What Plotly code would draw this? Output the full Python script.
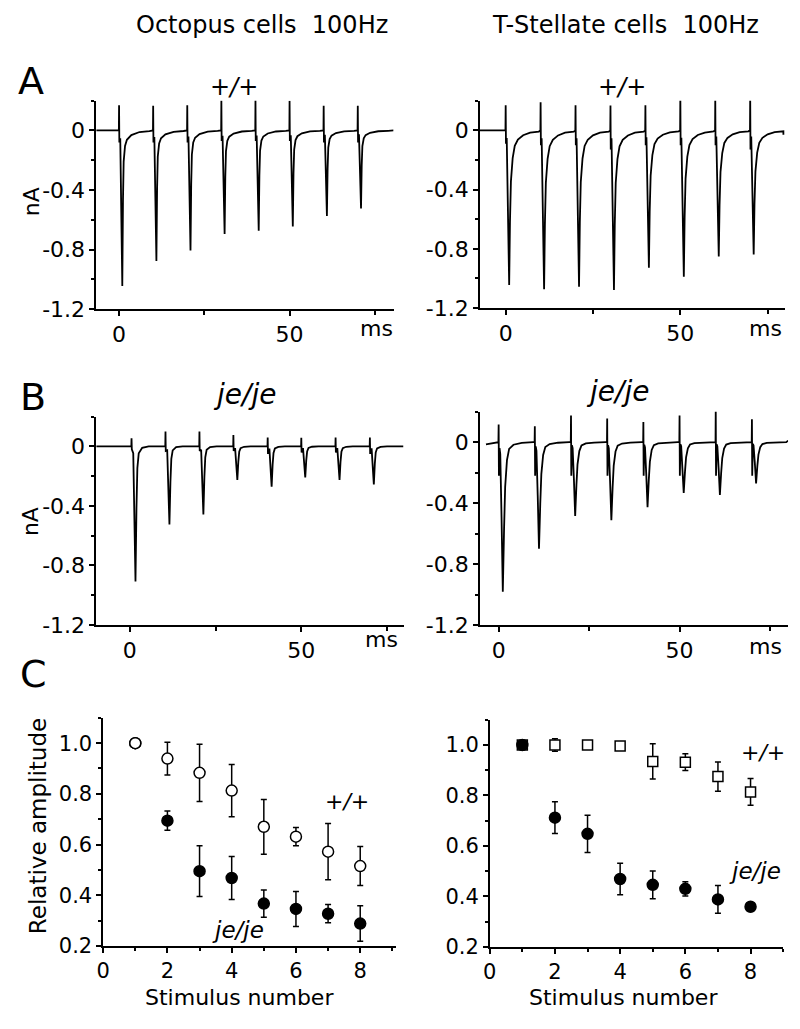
import plotly.graph_objects as go

W, H = 800, 1029

# ---------------- DATA ----------------
# Panel A/B: stimulus times (ms), EPSC peak amplitudes (nA), artifact tips (nA)
oct_wt_times = [0, 10, 20, 30, 40, 50, 60, 70]
oct_wt_peaks = [-1.045, -0.877, -0.807, -0.696, -0.674, -0.645, -0.575, -0.524]
oct_wt_art_up = [0.17, 0.166, 0.17, 0.203, 0.205, 0.2, 0.166, 0.166]
oct_wt_art_dn = [-0.08, -0.08, -0.08, -0.07, -0.07, -0.07, -0.08, -0.08]

tst_wt_times = [0, 10, 20, 30, 40, 50, 60, 70]
tst_wt_peaks = [-1.044, -1.073, -1.056, -1.078, -0.927, -0.989, -0.851, -0.838]
tst_wt_art_up = [0.17, 0.19, 0.17, 0.167, 0.17, 0.244, 0.215, 0.233]
tst_wt_art_dn = [-0.09, -0.10, -0.10, -0.13, -0.10, -0.10, -0.10, -0.13]

oct_ko_times = [0.5, 10.4, 20.3, 30.2, 40.2, 50.0, 60.0, 70.0]
oct_ko_peaks = [-0.908, -0.525, -0.458, -0.226, -0.27, -0.208, -0.226, -0.255]
oct_ko_art_up = [0.055, 0.10, 0.10, 0.077, 0.06, 0.058, 0.06, 0.06]
oct_ko_art_dn = [-0.02, -0.03, -0.03, -0.03, -0.05, -0.04, -0.04, -0.05]

tst_ko_times = [0, 10, 20, 30, 40, 50, 60, 70]
tst_ko_peaks = [-0.981, -0.699, -0.484, -0.512, -0.426, -0.333, -0.346, -0.27]
tst_ko_art_up = [0.116, 0.105, 0.176, 0.155, 0.133, 0.176, 0.22, 0.15]
tst_ko_art_dn = [-0.22, -0.22, -0.22, -0.22, -0.22, -0.22, -0.22, -0.22]

# EPSC waveform shapes: offset after stimulus (ms), fraction of peak
oct_wt_shape_t = [0.35, 0.6, 0.95, 1.15, 1.35, 1.75, 2.3, 3.6, 6.0, 8.9]
oct_wt_shape_f = [0.05, 0.45, 1.0, 0.45, 0.2, 0.1, 0.06, 0.03, 0.01, 0.004]
tst_wt_shape_t = [0.3, 0.65, 1.0, 1.23, 1.5, 2.0, 2.6, 3.5, 5.0, 7.0, 9.5]
tst_wt_shape_f = [0.05, 0.5, 1.0, 0.59, 0.33, 0.18, 0.10, 0.06, 0.032, 0.015, 0.008]
oct_ko_shape_t = [0.5, 0.85, 1.15, 1.44, 1.7, 2.1, 3.1, 5.0]
oct_ko_shape_f = [0.05, 0.5, 1.0, 0.45, 0.16, 0.05, 0.01, 0.0]
tst_ko_shape_t = [0.25, 0.45, 0.8, 1.15, 1.5, 1.8, 2.3, 2.9, 4.1, 6.4, 9.5]
tst_ko_shape_f = [0.04, 0.08, 0.5, 1.0, 0.58, 0.3, 0.12, 0.045, 0.017, 0.005, 0.0]

# Panel C: relative amplitude vs stimulus number
stim = [1, 2, 3, 4, 5, 6, 7, 8]
oct_wt_rel = [1.0, 0.939, 0.883, 0.813, 0.670, 0.631, 0.572, 0.515]
oct_wt_err = [0.0, 0.065, 0.113, 0.103, 0.108, 0.036, 0.111, 0.077]
oct_ko_rel = [1.0, 0.694, 0.495, 0.468, 0.367, 0.346, 0.327, 0.288]
oct_ko_err = [0.0, 0.038, 0.100, 0.085, 0.054, 0.069, 0.036, 0.070]
tst_wt_rel = [1.0, 1.0, 1.0, 0.996, 0.935, 0.932, 0.875, 0.814]
tst_wt_err = [0.0, 0.025, 0.0, 0.01, 0.07, 0.033, 0.058, 0.053]
tst_ko_rel = [1.0, 0.712, 0.648, 0.469, 0.446, 0.430, 0.388, 0.359]
tst_ko_err = [0.0, 0.063, 0.074, 0.062, 0.055, 0.028, 0.055, 0.0]

y_tickvals = [-1.2, -0.8, -0.4, 0]
y_ticktext = ["-1.2", "-0.8", "-0.4", "0"]
x_tickvals = [0, 50]
x_ticktext = ["0", "50"]

# ---------------- helpers ----------------
FONT = "DejaVu Sans, Arial, Helvetica, sans-serif"


def build_trace(times, peaks, up, dn, sh_t, sh_f, t0, v0, t1, v1, base=0.0):
    xs, ys = [t0], [v0]
    for t, p, u, d in zip(times, peaks, up, dn):
        xs += [t - 0.06, t, t + 0.08]
        ys += [base, u, d]
        for o, f in zip(sh_t, sh_f):
            xs.append(t + o)
            ys.append(base + f * p)
    xs.append(t1)
    ys.append(v1)
    return xs, ys


def dx(a, b):
    return [a / W, b / W]


def dy(top, bottom):
    return [1 - bottom / H, 1 - top / H]


fig = go.Figure()

axis_common = dict(showline=True, linecolor="black", linewidth=1.5, ticks="outside",
                   tickcolor="black", tickwidth=1.5, ticklen=5, showgrid=False,
                   zeroline=False, tickfont=dict(family=FONT, size=22, color="black"))

panels = [
    ("1", (90, 390), [-6.7, 80.5], (102, 313)),
    ("2", (477, 785), [-7.4, 80.0], (102, 312)),
    ("3", (90, 400), [-9.8, 79.8], (422, 633)),
    ("4", (477, 788), [-5.2, 80.0], (417, 633)),
]
layout_axes = {}
for n, xd, xr, yd in panels:
    xa = dict(axis_common, domain=dx(*xd), range=xr, anchor="y" + n,
              tickmode="array", tickvals=x_tickvals, ticktext=x_ticktext,
              minor=dict(dtick=25, tick0=0, ticks="outside", ticklen=4,
                         tickwidth=1.5, tickcolor="black"))
    ya = dict(axis_common, domain=dy(*yd), range=[-1.2, 0.2], anchor="x" + n,
              tickmode="array", tickvals=y_tickvals, ticktext=y_ticktext,
              minor=dict(dtick=0.2, tick0=0, ticks="outside", ticklen=3,
                         tickwidth=1.5, tickcolor="black"))
    layout_axes["xaxis" + ("" if n == "1" else n)] = xa
    layout_axes["yaxis" + ("" if n == "1" else n)] = ya

c_tickfont = dict(family=FONT, size=21, color="black")
for n, xd, xr, yd in [("5", (97, 392), [0, 9.1], (727, 958)),
                      ("6", (487, 783), [0, 9.0], (729, 959))]:
    layout_axes["xaxis" + n] = dict(axis_common, domain=dx(*xd), range=xr, anchor="y" + n,
                                    dtick=2, tick0=0, tickfont=c_tickfont,
                                    minor=dict(dtick=1, tick0=0, ticks="outside", ticklen=3,
                                               tickwidth=1.5, tickcolor="black"))
    layout_axes["yaxis" + n] = dict(axis_common, domain=dy(*yd), range=[0.2, 1.1], anchor="x" + n,
                                    dtick=0.2, tick0=0.2, tickformat=".1f", tickfont=c_tickfont,
                                    minor=dict(dtick=0.1, tick0=0.2, ticks="outside", ticklen=3,
                                               tickwidth=1.5, tickcolor="black"))

# ---------------- traces ----------------
line = dict(color="black", width=1.8)
x, y = build_trace(oct_wt_times, oct_wt_peaks, oct_wt_art_up, oct_wt_art_dn,
                   oct_wt_shape_t, oct_wt_shape_f, -6.7, 0.0, 80.5, 0.0)
fig.add_trace(go.Scatter(x=x, y=y, mode="lines", line=line, xaxis="x", yaxis="y"))
x, y = build_trace(tst_wt_times, tst_wt_peaks, tst_wt_art_up, tst_wt_art_dn,
                   tst_wt_shape_t, tst_wt_shape_f, -7.4, 0.0, 79.5, -0.03)
fig.add_trace(go.Scatter(x=x, y=y, mode="lines", line=line, xaxis="x2", yaxis="y2"))
x, y = build_trace(oct_ko_times, oct_ko_peaks, oct_ko_art_up, oct_ko_art_dn,
                   oct_ko_shape_t, oct_ko_shape_f, -9.8, 0.0, 79.8, 0.0)
fig.add_trace(go.Scatter(x=x, y=y, mode="lines", line=line, xaxis="x3", yaxis="y3"))
x, y = build_trace(tst_ko_times, tst_ko_peaks, tst_ko_art_up, tst_ko_art_dn,
                   tst_ko_shape_t, tst_ko_shape_f, -3.5, -0.015, 80.0, 0.01)
fig.add_trace(go.Scatter(x=x, y=y, mode="lines", line=line, xaxis="x4", yaxis="y4"))


def err(a):
    return dict(type="data", array=a, color="black", thickness=1.5, width=3)


# C left: filled (je/je) first, open (+/+) on top
fig.add_trace(go.Scatter(x=stim, y=oct_ko_rel, mode="markers", error_y=err(oct_ko_err),
                         marker=dict(symbol="circle", size=11, color="black",
                                     line=dict(color="black", width=1.5)),
                         xaxis="x5", yaxis="y5"))
fig.add_trace(go.Scatter(x=stim, y=oct_wt_rel, mode="markers", error_y=err(oct_wt_err),
                         marker=dict(symbol="circle", size=11, color="white",
                                     line=dict(color="black", width=1.5)),
                         xaxis="x5", yaxis="y5"))
# C right: open squares first, filled circles on top
fig.add_trace(go.Scatter(x=stim, y=tst_wt_rel, mode="markers", error_y=err(tst_wt_err),
                         marker=dict(symbol="square", size=10, color="white",
                                     line=dict(color="black", width=1.5)),
                         xaxis="x6", yaxis="y6"))
fig.add_trace(go.Scatter(x=stim, y=tst_ko_rel, mode="markers", error_y=err(tst_ko_err),
                         marker=dict(symbol="circle", size=11, color="black",
                                     line=dict(color="black", width=1.5)),
                         xaxis="x6", yaxis="y6"))


# ---------------- annotations ----------------
def txt(x, y, s, size=22, italic=False, angle=0):
    t = "<i>%s</i>" % s if italic else s
    return dict(x=x / W, y=1 - y / H, xref="paper", yref="paper", text=t,
                showarrow=False, textangle=angle, xanchor="center", yanchor="middle",
                borderpad=0,
                font=dict(family=FONT, size=size, color="black"))


ann = [
    txt(257, 25, "Octopus cells&nbsp;&nbsp;100Hz", 24),
    txt(624, 25, "T-Stellate cells&nbsp;&nbsp;100Hz", 24),
    txt(24, 82, "A", 38), txt(26, 402, "B", 38), txt(27, 683, "C", 38),
    txt(229, 88, "+/+", 24, True), txt(620, 88, "+/+", 24, True),
    txt(240, 400, "je/je", 28, True), txt(616, 397, "je/je", 28, True),
    txt(25, 204, "nA", 22, angle=-90), txt(24, 528, "nA", 22, angle=-90),
    txt(373, 333, "ms", 22), txt(765, 333, "ms", 22),
    txt(378, 648, "ms", 22), txt(765, 655, "ms", 22),
    txt(32, 837, "Relative amplitude", 23, angle=-90),
    txt(235, 1010, "Stimulus number", 22), txt(622, 1010, "Stimulus number", 22),
    txt(343, 812, "+/+", 22, True), txt(233, 942, "je/je", 23, True),
    txt(763, 762, "+/+", 22, True), txt(755, 882, "je/je", 23, True),
]

fig.update_layout(width=W, height=H, margin=dict(l=0, r=0, t=0, b=0),
                  paper_bgcolor="white", plot_bgcolor="white", showlegend=False,
                  annotations=ann, **layout_axes)

# remove the browser's default 8 px body margin so the figure sits at the page origin
fig.write_html("out.html", config={"displayModeBar": False},
               post_script="document.body.style.margin='0';document.body.style.overflow='hidden';")
